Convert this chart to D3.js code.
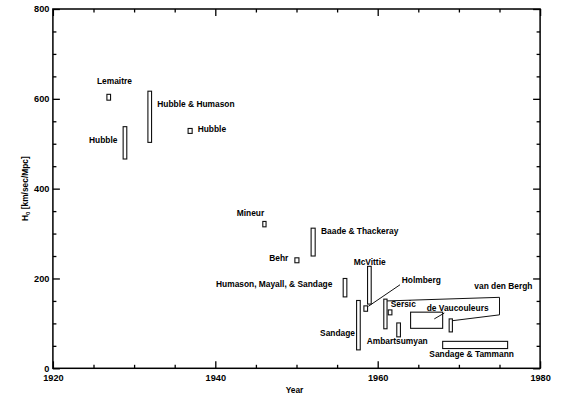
<!DOCTYPE html>
<html lang="en">
<head>
    <meta charset="UTF-8">
    <title>Hubble constant estimates</title>
    <script src="https://d3js.org/d3.v7.min.js"></script>
</head>
<style>
    * { margin: 0; padding: 0; }
    body { background: #fff; }
    text { font-family: "Liberation Sans", Arial, sans-serif; font-weight: bold; fill: #000; }
</style>
<body>
<script>
    // each estimate: year range and H0 range
    var names  = ["Lemaitre", "Hubble", "Hubble & Humason", "Hubble", "Mineur", "Behr",
                  "Baade & Thackeray", "Humason, Mayall, & Sandage", "Sandage", "Holmberg",
                  "McVittie", "van den Bergh", "Sersic", "Ambartsumyan", "de Vaucouleurs",
                  "van den Bergh", "Sandage & Tammann"];
    var yearLo = [1926.65, 1928.65, 1931.7, 1936.65, 1945.85, 1949.8, 1951.8, 1955.75, 1957.4, 1958.3,
                  1958.75, 1960.75, 1961.3, 1962.35, 1964.05, 1968.8, 1968.0];
    var yearHi = [1927.1, 1929.1, 1932.15, 1937.15, 1946.25, 1950.3, 1952.3, 1956.2, 1957.85, 1958.75,
                  1959.2, 1961.15, 1961.75, 1962.8, 1968.0, 1969.2, 1976.0];
    var hLo    = [597, 466, 503, 523, 315, 235, 250, 159, 41, 127, 143, 88, 119, 70, 89, 81, 44];
    var hHi    = [610, 538, 617, 534, 327, 246, 312, 200, 151, 139, 227, 154, 130, 101, 125, 110, 60];

    // label anchors (year, H0) - left edge / baseline of the text
    var labels = [
        ["Lemaitre", 1925.43, 632],
        ["Hubble", 1924.45, 502],
        ["Hubble & Humason", 1932.86, 582],
        ["Hubble", 1937.83, 527],
        ["Mineur", 1942.64, 340],
        ["Baade & Thackeray", 1953.02, 298],
        ["Behr", 1946.65, 239],
        ["Humason, Mayall, & Sandage", 1940.09, 180],
        ["Sandage", 1952.9, 72],
        ["McVittie", 1957.04, 231],
        ["Holmberg", 1962.96, 190],
        ["Sersic", 1961.6, 136],
        ["de Vaucouleurs", 1966.03, 128],
        ["van den Bergh", 1971.9, 177],
        ["Ambartsumyan", 1958.65, 54],
        ["Sandage & Tammann", 1966.36, 26]
    ];

    // leader lines (year, H0)
    var leaders = [
        [[1958.85, 138], [1962.75, 186]],
        [[1966.97, 110], [1968.2, 123]],
        [[1961.15, 150], [1975, 158], [1975, 119], [1969.2, 106]]
    ];

    var xMajor = [1920, 1940, 1960, 1980];
    var yMajor = [0, 200, 400, 600, 800];

    var width = 570, height = 398;

    var x = d3.scaleLinear().domain([1920, 1980]).range([52.9, 540.1]);
    var y = d3.scaleLinear().domain([0, 800]).range([368.3, 9]);

    var svg = d3.select("body").append("svg")
        .attr("width", width)
        .attr("height", height);

    var xMinor = d3.range(1920, 1981, 5).filter(function(d) { return xMajor.indexOf(d) < 0 });
    var yMinor = d3.range(0, 801, 50).filter(function(d) { return yMajor.indexOf(d) < 0 });

    function styleAxis(g) {
        g.selectAll(".domain").remove();
        g.selectAll("line").attr("stroke", "#000").attr("stroke-width", 1.3);
        g.selectAll("text").style("font-size", "9.2px").attr("fill", "#000");
    }

    // bottom
    svg.append("g").attr("transform", "translate(0," + y(0) + ")")
        .call(d3.axisBottom(x).tickValues(xMajor).tickSize(-7).tickPadding(6).tickFormat(d3.format("d")))
        .call(styleAxis);
    svg.append("g").attr("transform", "translate(0," + y(0) + ")")
        .call(d3.axisBottom(x).tickValues(xMinor).tickSize(-3.5).tickFormat(""))
        .call(styleAxis);
    // top
    svg.append("g").attr("transform", "translate(0," + y(800) + ")")
        .call(d3.axisTop(x).tickValues(xMajor).tickSize(-7).tickFormat(""))
        .call(styleAxis);
    svg.append("g").attr("transform", "translate(0," + y(800) + ")")
        .call(d3.axisTop(x).tickValues(xMinor).tickSize(-3.5).tickFormat(""))
        .call(styleAxis);
    // left
    svg.append("g").attr("transform", "translate(" + x(1920) + ",0)")
        .call(d3.axisLeft(y).tickValues(yMajor).tickSize(-7).tickPadding(3.5).tickFormat(d3.format("d")))
        .call(styleAxis);
    svg.append("g").attr("transform", "translate(" + x(1920) + ",0)")
        .call(d3.axisLeft(y).tickValues(yMinor).tickSize(-3.5).tickFormat(""))
        .call(styleAxis);
    // right
    svg.append("g").attr("transform", "translate(" + x(1980) + ",0)")
        .call(d3.axisRight(y).tickValues(yMajor).tickSize(-7).tickFormat(""))
        .call(styleAxis);
    svg.append("g").attr("transform", "translate(" + x(1980) + ",0)")
        .call(d3.axisRight(y).tickValues(yMinor).tickSize(-3.5).tickFormat(""))
        .call(styleAxis);

    svg.append("rect")
        .attr("x", x(1920)).attr("y", y(800))
        .attr("width", x(1980) - x(1920)).attr("height", y(0) - y(800))
        .attr("fill", "none").attr("stroke", "#000").attr("stroke-width", 1.5);

    // estimate boxes
    svg.selectAll("rect.est")
        .data(names)
        .enter()
        .append("rect")
        .attr("class", "est")
        .attr("x", function(d, i) { return x(yearLo[i]) })
        .attr("y", function(d, i) { return y(hHi[i]) })
        .attr("width", function(d, i) { return x(yearHi[i]) - x(yearLo[i]) })
        .attr("height", function(d, i) { return y(hLo[i]) - y(hHi[i]) })
        .attr("fill", "#fff")
        .attr("stroke", "#111")
        .attr("stroke-width", 1.1);

    var line = d3.line().x(function(d) { return x(d[0]) }).y(function(d) { return y(d[1]) });
    svg.selectAll("path.leader")
        .data(leaders)
        .enter()
        .append("path")
        .attr("class", "leader")
        .attr("d", line)
        .attr("fill", "none")
        .attr("stroke", "#111")
        .attr("stroke-width", 1);

    svg.selectAll("text.lab")
        .data(labels)
        .enter()
        .append("text")
        .attr("class", "lab")
        .attr("x", function(d) { return x(d[1]) })
        .attr("y", function(d) { return y(d[2]) })
        .style("font-size", "8.4px")
        .text(function(d) { return d[0] });

    svg.append("text")
        .attr("x", x(1950) - 2)
        .attr("y", 392.5)
        .attr("text-anchor", "middle")
        .style("font-size", "8.4px")
        .text("Year");

    var yl = svg.append("text")
        .attr("transform", "translate(28," + (y(400) + 0) + ") rotate(-90)")
        .attr("text-anchor", "middle")
        .style("font-size", "8.4px");
    yl.append("tspan").text("H");
    yl.append("tspan").attr("dy", 2).style("font-size", "6px").text("0");
    yl.append("tspan").attr("dy", -2).text(" [km/sec/Mpc]");
</script>
</body>
</html>
